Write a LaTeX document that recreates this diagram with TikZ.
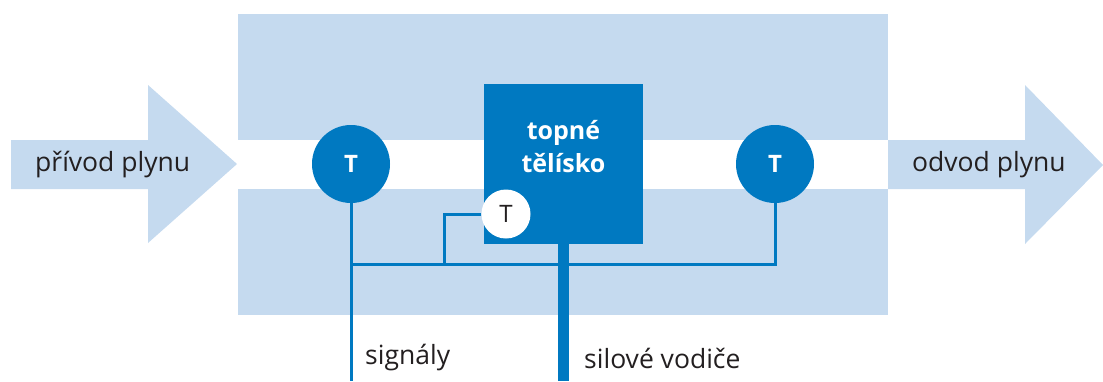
\documentclass[tikz,border=0pt]{standalone}
\usepackage{fontspec}
\setmainfont{Open Sans}
\definecolor{lb}{HTML}{C5DAEF}
\definecolor{db}{HTML}{0079C1}
\definecolor{tx}{HTML}{231F20}
\tikzset{
  sensor/.style={circle,fill=db,inner sep=0pt,minimum size=78pt,text=white,font=\fontsize{24}{28}\selectfont\bfseries},
  smallsensor/.style={circle,fill=white,inner sep=0pt,minimum size=49pt,text=tx,font=\fontsize{24}{28}\selectfont},
  heater/.style={rectangle,fill=db,inner sep=0pt,minimum width=159pt,minimum height=160pt},
  sig/.style={draw=db,line width=3pt},
  power/.style={draw=db,line width=11pt},
  lbl/.style={text=tx,font=\fontsize{26.5}{30}\selectfont,inner sep=0pt},
}
\begin{document}
\begin{tikzpicture}[x=1pt,y=-1pt]
\useasboundingbox (0,0) rectangle (1103,381);
% housing
\fill[lb] (238,14) rectangle (888,315);
\fill[white] (238,140) rectangle (888,189);
% arrows
\fill[lb] (11,140) -- (148,140) -- (148,85) -- (237,164) -- (148,243) -- (148,189) -- (11,189) -- cycle;
\fill[lb] (888,140) -- (1025,140) -- (1025,85) -- (1103,165) -- (1025,244) -- (1025,189) -- (888,189) -- cycle;
\node[lbl,anchor=west] (in) at (35,165) {přívod plynu};
\node[lbl,anchor=west] (out) at (912,165) {odvod plynu};
% heater
\node[heater] (h) at (563.5,164) {};
\node[text=white,align=center,inner sep=0pt,font=\fontsize{25}{33}\selectfont\bfseries] (ht) at (563.5,147) {topné\\tělísko};
% sensors
\node[sensor] (t1) at (351,164) {T};
\node[sensor] (t2) at (775,164) {T};
\coordinate (j1) at (351,264);
\coordinate (j2) at (444,264);
\coordinate (sigend) at (351,381);
\coordinate (pend) at (563.5,381);
\draw[sig] (t1) -- (sigend);
\draw[sig] (t2.south) |- (j1);
\draw[power] (h.south) -- (pend);
\node[smallsensor] (t3) at (506,214) {T};
\draw[sig] (t3.west) -| (j2);
% labels
\node[lbl,anchor=west] (ls) at (365,358) {signály};
\node[lbl,anchor=west] (lp) at (584,358) {silové vodiče};
\end{tikzpicture}
\end{document}
